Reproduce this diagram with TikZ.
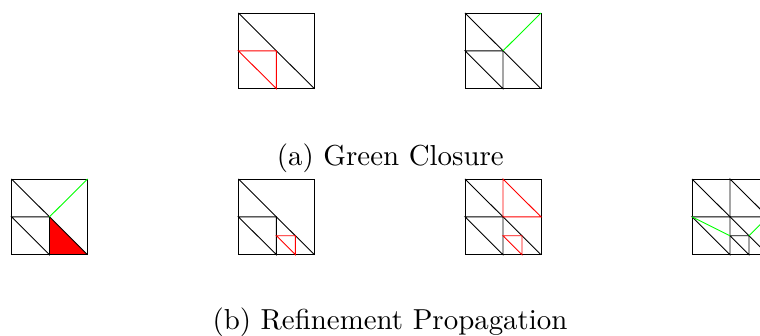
\documentclass[tikz,border=0pt]{standalone}
\definecolor{purered}{RGB}{255,0,0}
\definecolor{puregreen}{RGB}{0,255,0}
\tikzset{
  cell/.style={shift={(#1)},x=76pt,y=75.7pt},
  edge/.style={draw=black,line width=0.9pt},
  redge/.style={draw=purered,line width=0.9pt},
  gedge/.style={draw=puregreen,line width=0.9pt},
  caption/.style={scale=2.89,transform shape,anchor=base,inner sep=0pt}
}
\newcommand{\basegrid}{%
  \draw[edge] (0,0) rectangle (1,1);
  \draw[edge] (0,1) -- (1,0);
}
\newcommand{\leftpair}{%
  \draw[edge] (0,.5) -- (.5,.5) -- (.5,0) -- cycle;
}
\begin{document}
\begin{tikzpicture}[x=1pt,y=1pt]
\useasboundingbox (0,0) rectangle (760,336);
\clip (0,0) rectangle (760,336);
% (a) first
\begin{scope}[cell={238.4,247.3}]
  \basegrid
  \draw[redge] (0,.5) -- (.5,.5) -- (.5,0) -- cycle;
\end{scope}
% (a) second
\begin{scope}[cell={465,247.3}]
  \basegrid \leftpair
  \draw[gedge] (.5,.5) -- (1,1);
\end{scope}
\node[caption] (capa) at (390.3,170.3) {(a) Green Closure};
% (b) first
\begin{scope}[cell={11.5,81.3}]
  \fill[purered] (.5,.5) -- (1,0) -- (.5,0) -- cycle;
  \basegrid \leftpair
  \draw[gedge] (.5,.5) -- (1,1);
\end{scope}
% (b) second
\begin{scope}[cell={238.4,81.3}]
  \basegrid \leftpair
  \draw[redge] (.5,.25) -- (.75,.25) -- (.75,0) -- cycle;
\end{scope}
% (b) third
\begin{scope}[cell={465,81.3}]
  \basegrid \leftpair
  \draw[redge] (.5,.25) -- (.75,.25) -- (.75,0) -- cycle;
  \draw[redge] (.5,1) -- (.5,.5) -- (1,.5) -- cycle;
\end{scope}
% (b) fourth, cut by the page edge
\begin{scope}[cell={692,81.3}]
  \basegrid \leftpair
  \draw[edge] (.5,1) -- (.5,.5) -- (1,.5) -- cycle;
  \draw[edge] (.5,.25) -- (.75,.25) -- (.75,0) -- cycle;
  \draw[gedge] (0,.5) -- (.5,.25);
  \draw[gedge] (.75,.25) -- (1,.5);
\end{scope}
\node[caption] (capb) at (390,6) {(b) Refinement Propagation};
\end{tikzpicture}
\end{document}
